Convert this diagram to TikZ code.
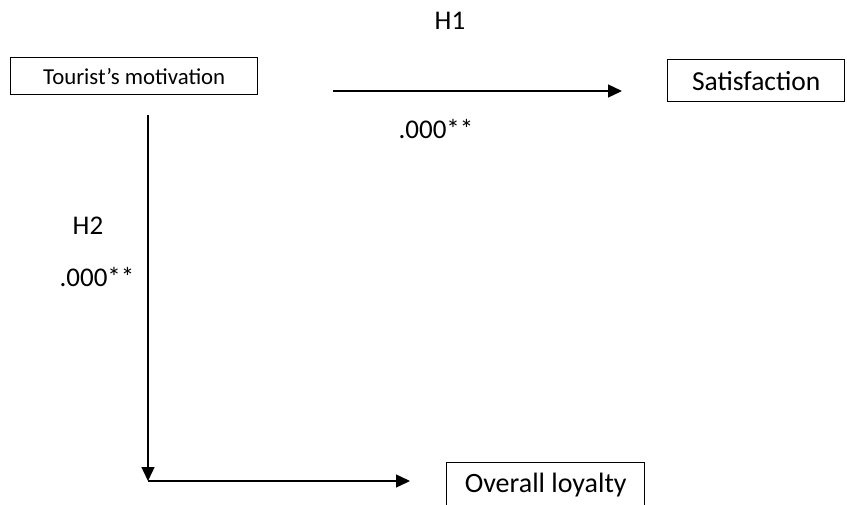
\documentclass[tikz,border=0pt]{standalone}
\usepackage{fontspec}
\setmainfont{Carlito}
\usetikzlibrary{arrows.meta}
\begin{document}
\begin{tikzpicture}[x=1pt,y=-1pt,
  boxnode/.style={draw,line width=1.4pt,inner sep=0pt,anchor=north west},
  lbl/.style={inner sep=0pt,font=\fontsize{27}{31}\selectfont},
  arr/.style={line width=1.4pt,-{Triangle[length=14pt,width=13pt]}}]
\useasboundingbox (0,0) rectangle (847,504);
\node[boxnode,minimum width=247pt,minimum height=37pt,font=\fontsize{22.8}{26}\selectfont] (mot) at (10,57) {Tourist’s motivation};
\node[boxnode,minimum width=177pt,minimum height=42pt,font=\fontsize{27.5}{31}\selectfont] (sat) at (667,59) {Satisfaction};
\node[boxnode,minimum width=198pt,minimum height=44pt,font=\fontsize{28}{32}\selectfont] (loy) at (446,462) {Overall loyalty};
\coordinate (a1s) at (333,91);
\coordinate (a1e) at (622,91);
\coordinate (a2s) at (148,115);
\coordinate (a2e) at (148,481);
\coordinate (a3e) at (410,481);
\draw[arr] (a1s) -- (a1e);
\draw[arr] (a2s) -- (a2e);
\draw[arr] (a2e) -- (a3e);
\node[lbl] (h1) at (450,21) {H1};
\node[lbl] (p1) at (436,129) {.000**};
\node[lbl] (h2) at (88,226) {H2};
\node[lbl] (p2) at (97,277) {.000**};
\end{tikzpicture}
\end{document}
